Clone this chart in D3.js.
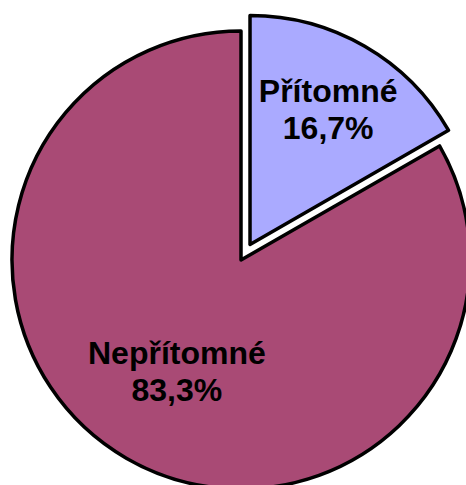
<!DOCTYPE html>
<html>
<head>
<meta charset="utf-8">
<script src="https://cdn.jsdelivr.net/npm/d3@7"></script>
<style>
  html, body { margin: 0; padding: 0; background: #fff; }
  svg { display: block; }
</style>
</head>
<body>
<script>
// Slice data
const categories = ["Přítomné", "Nepřítomné"];
const values = [16.7, 83.3];
const valueLabels = ["16,7%", "83,3%"];
const colors = ["#AAAAFF", "#A94A75"];
const exploded = [true, false];

const width = 466, height = 485;
const cx = 241, cy = 260;
const radius = 229;
const explodeDist = 18;
const labelRadius = [156, 128];

const svg = d3.select("body").append("svg")
  .attr("width", width)
  .attr("height", height);

const pie = d3.pie().sort(null).value(d => d.value);
const arc = d3.arc().innerRadius(0).outerRadius(radius);

const data = categories.map((c, i) => ({
  name: c, value: values[i], label: valueLabels[i], color: colors[i], explode: exploded[i], lr: labelRadius[i]
}));
const arcs = pie(data);

function offset(a, dist) {
  const mid = (a.startAngle + a.endAngle) / 2;
  return [Math.sin(mid) * dist, -Math.cos(mid) * dist];
}

const g = svg.append("g").attr("transform", `translate(${cx},${cy})`);

const slices = g.selectAll("g.slice").data(arcs).join("g")
  .attr("class", "slice")
  .attr("transform", d => {
    const [dx, dy] = d.data.explode ? offset(d, explodeDist) : [0, 0];
    return `translate(${dx},${dy})`;
  });

slices.append("path")
  .attr("d", arc)
  .attr("fill", d => d.data.color)
  .attr("stroke", "#000")
  .attr("stroke-width", 3.5)
  .attr("stroke-linejoin", "round");

const labels = slices.append("text")
  .attr("text-anchor", "middle")
  .attr("font-family", "'Liberation Sans', Arial, Helvetica, sans-serif")
  .attr("font-weight", "bold")
  .attr("font-size", 32)
  .attr("fill", "#000")
  .attr("transform", d => {
    const la = d3.arc().innerRadius(d.data.lr).outerRadius(d.data.lr);
    const [x, y] = la.centroid(d);
    return `translate(${x},${y})`;
  });

labels.append("tspan").attr("x", 0).attr("dy", -7).text(d => d.data.name);
labels.append("tspan").attr("x", 0).attr("dy", 37).text(d => d.data.label);
</script>
</body>
</html>
